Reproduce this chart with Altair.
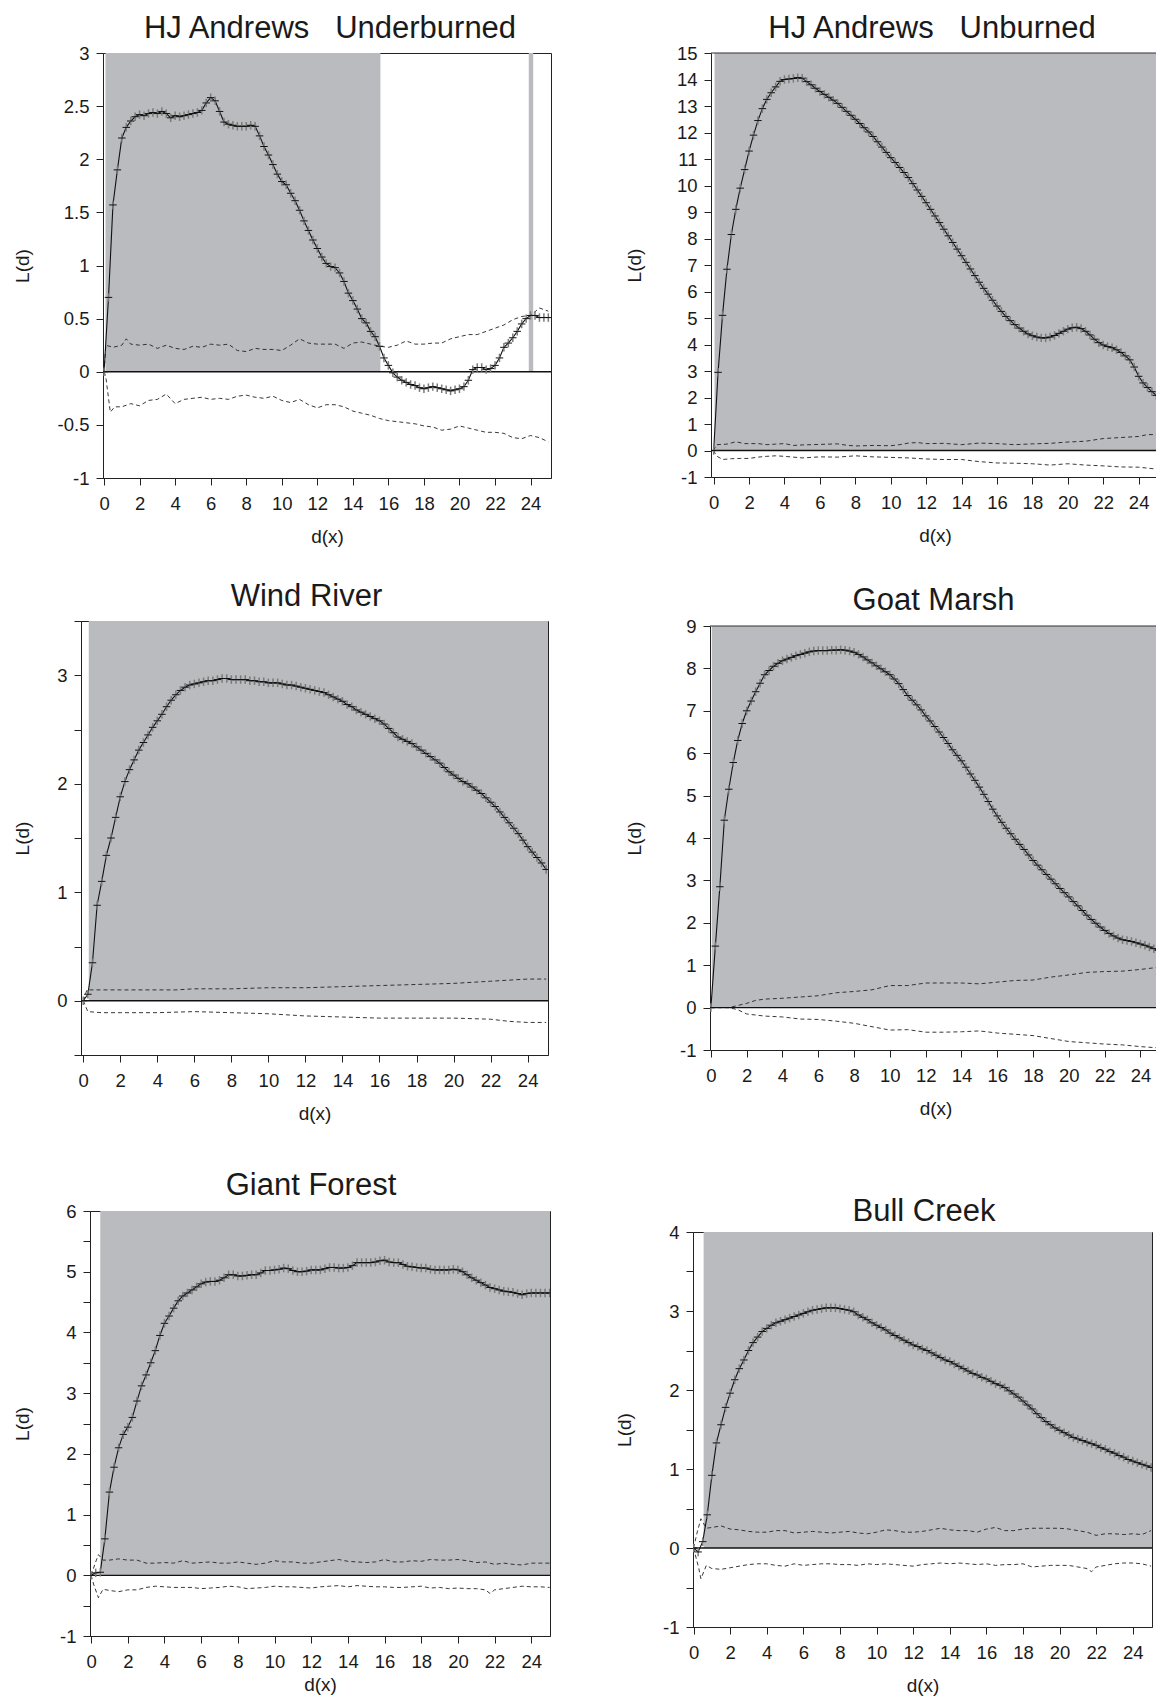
import altair as alt
import pandas as pd

FONT = "Liberation Sans"
GRAY = "#babbbf"
INK = "#1a1a1a"

# distance grid (d, metres) at which L(d) was evaluated
D = [i * 0.25 for i in range(101)]

# ---------------- HJ Andrews Underburned ----------------
P1_L = [0, 0.7, 1.57, 1.9, 2.2,
        2.3, 2.36, 2.4, 2.42, 2.41, 2.43, 2.44, 2.43, 2.45, 2.43, 2.39, 2.41,
        2.40, 2.41, 2.42, 2.43, 2.44, 2.46, 2.53, 2.58, 2.55, 2.45, 2.35, 2.33,
        2.32, 2.31, 2.31, 2.31, 2.32, 2.31, 2.22, 2.12, 2.04, 1.95, 1.86, 1.79,
        1.76, 1.68, 1.61, 1.52, 1.42, 1.33, 1.24, 1.16, 1.08, 1.02, 0.99, 0.98,
        0.93, 0.85, 0.74, 0.67, 0.59, 0.50, 0.46, 0.38, 0.33, 0.24, 0.13, 0.06,
        -0.01, -0.05, -0.08, -0.10, -0.12, -0.13, -0.15, -0.16, -0.15, -0.14, -0.15, -0.16,
        -0.17, -0.18, -0.17, -0.16, -0.14, -0.08, 0.02, 0.04, 0.04, 0.02, 0.03, 0.06,
        0.13, 0.23, 0.27, 0.32, 0.38, 0.45, 0.50, 0.53, 0.53, 0.51, 0.51, 0.51]
P1_UP = [(0, 0), (0.1, 0.25), (0.5, 0.23), (1, 0.25), (1.25, 0.31), (1.5, 0.26), (2, 0.25),
         (2.5, 0.26), (3, 0.22), (3.5, 0.25), (4, 0.22), (4.5, 0.21), (5, 0.24), (5.5, 0.23),
         (6, 0.26), (6.5, 0.25), (7, 0.26), (7.5, 0.2), (8, 0.19), (8.5, 0.22), (9, 0.21),
         (9.5, 0.21), (10, 0.2), (10.5, 0.25), (11, 0.31), (11.5, 0.27), (12, 0.26),
         (12.5, 0.26), (13, 0.26), (13.5, 0.22), (14, 0.27), (14.5, 0.28), (15, 0.26),
         (15.5, 0.24), (16, 0.23), (16.5, 0.25), (17, 0.29), (17.5, 0.26), (18, 0.26),
         (18.5, 0.27), (19, 0.27), (19.5, 0.31), (20, 0.33), (20.5, 0.35), (21, 0.35),
         (21.5, 0.38), (22, 0.41), (22.5, 0.44), (23, 0.49), (23.5, 0.52), (24, 0.53),
         (24.5, 0.6), (25, 0.57)]
P1_LO = [(0, 0), (0.1, -0.05), (0.35, -0.38), (0.6, -0.33), (1, -0.33), (1.5, -0.3), (2, -0.32),
         (2.5, -0.27), (3, -0.26), (3.5, -0.21), (4, -0.3), (4.5, -0.26), (5, -0.25),
         (5.5, -0.24), (6, -0.26), (6.5, -0.25), (7, -0.26), (7.5, -0.23), (8, -0.22),
         (8.5, -0.24), (9, -0.25), (9.5, -0.23), (10, -0.27), (10.5, -0.29), (11, -0.26),
         (11.5, -0.31), (12, -0.34), (12.5, -0.31), (13, -0.31), (13.5, -0.33), (14, -0.37),
         (14.5, -0.39), (15, -0.41), (15.5, -0.44), (16, -0.46), (16.5, -0.47), (17, -0.48),
         (17.5, -0.49), (18, -0.51), (18.5, -0.52), (19, -0.55), (19.5, -0.54), (20, -0.51),
         (20.5, -0.53), (21, -0.55), (21.5, -0.57), (22, -0.57), (22.5, -0.58), (23, -0.62),
         (23.5, -0.63), (24, -0.6), (24.5, -0.62), (25, -0.66)]
P1_SHADE = [(0.08, 15.55), (23.9, 24.15)]

# ---------------- HJ Andrews Unburned ----------------
P2_L = [0, 2.95, 5.1, 6.84, 8.15,
        9.1, 9.9, 10.6, 11.3, 11.9, 12.45, 12.9, 13.25, 13.5, 13.72, 13.93, 14.0,
        14.02, 14.04, 14.07, 14.05, 13.92, 13.8, 13.67, 13.55, 13.44, 13.33, 13.22, 13.1,
        12.95, 12.8, 12.65, 12.5, 12.34, 12.18, 12.02, 11.85, 11.65, 11.45, 11.25, 11.05,
        10.87, 10.68, 10.49, 10.3, 10.07, 9.83, 9.59, 9.35, 9.1, 8.85, 8.6, 8.35,
        8.1, 7.85, 7.6, 7.35, 7.1, 6.85, 6.6, 6.35, 6.12, 5.9, 5.67, 5.45,
        5.25, 5.06, 4.9, 4.75, 4.62, 4.5, 4.4, 4.33, 4.28, 4.25, 4.25, 4.28,
        4.34, 4.42, 4.5, 4.58, 4.63, 4.65, 4.6, 4.5, 4.36, 4.2, 4.07, 3.98,
        3.92, 3.88, 3.8, 3.7, 3.57, 3.42, 3.15, 2.8, 2.55, 2.38, 2.22, 2.08]
P2_UP = [(0, 0), (0.15, 0.22), (0.75, 0.24), (1.25, 0.33), (1.75, 0.26), (2.5, 0.26), (3, 0.22),
         (3.5, 0.24), (4, 0.26), (4.5, 0.19), (5, 0.21), (6, 0.23), (7, 0.25), (7.5, 0.2),
         (8, 0.17), (9, 0.19), (10, 0.18), (10.5, 0.22), (11, 0.28), (11.5, 0.3), (12, 0.26),
         (13, 0.27), (14, 0.22), (15, 0.28), (16, 0.26), (17, 0.22), (18, 0.25), (19, 0.27),
         (20, 0.32), (21, 0.35), (22, 0.45), (23, 0.49), (24, 0.53), (24.5, 0.6), (25, 0.6)]
P2_LO = [(0, 0), (0.15, -0.2), (0.5, -0.34), (1, -0.31), (1.5, -0.3), (2, -0.3), (2.5, -0.25),
         (3, -0.22), (3.5, -0.2), (4, -0.22), (5, -0.28), (6, -0.24), (7, -0.25), (8, -0.2),
         (9, -0.24), (10, -0.26), (11, -0.28), (12, -0.32), (13, -0.34), (14, -0.34),
         (15, -0.42), (16, -0.47), (17, -0.48), (18, -0.5), (19, -0.55), (20, -0.5),
         (21, -0.55), (22, -0.58), (23, -0.62), (24, -0.63), (25, -0.7)]
P2_SHADE = [(0.05, 25.4)]

# ---------------- Wind River ----------------
P3_L = [0, 0.06, 0.35, 0.88, 1.1,
        1.34, 1.5, 1.69, 1.88, 2.02, 2.13, 2.22, 2.31, 2.38, 2.45, 2.52, 2.58,
        2.64, 2.71, 2.77, 2.82, 2.86, 2.89, 2.91, 2.92, 2.93, 2.94, 2.95, 2.95,
        2.96, 2.97, 2.97, 2.96, 2.96, 2.96, 2.96, 2.95, 2.95, 2.94, 2.94, 2.93,
        2.93, 2.93, 2.92, 2.91, 2.91, 2.9, 2.89, 2.88, 2.87, 2.86, 2.85, 2.84,
        2.82, 2.8, 2.78, 2.76, 2.73, 2.71, 2.68, 2.66, 2.64, 2.62, 2.6, 2.58,
        2.55, 2.51, 2.47, 2.43, 2.41, 2.39, 2.37, 2.34, 2.31, 2.28, 2.25, 2.22,
        2.19, 2.15, 2.11, 2.08, 2.05, 2.02, 2.0, 1.97, 1.94, 1.91, 1.87, 1.83,
        1.79, 1.74, 1.69, 1.64, 1.59, 1.54, 1.48, 1.42, 1.37, 1.32, 1.27, 1.21]
P3_UP = [(0, 0), (0.2, 0.1), (1, 0.1), (2, 0.1), (4, 0.1), (5, 0.1), (6, 0.11), (8, 0.11),
         (10, 0.12), (12, 0.12), (14, 0.13), (16, 0.14), (18, 0.15), (20, 0.16), (22, 0.18),
         (23, 0.19), (24, 0.2), (25, 0.2)]
P3_LO = [(0, 0), (0.25, -0.1), (1, -0.11), (2, -0.11), (4, -0.11), (6, -0.1), (8, -0.11),
         (10, -0.12), (12, -0.14), (14, -0.15), (16, -0.16), (18, -0.16), (20, -0.16),
         (22, -0.17), (23, -0.19), (24, -0.2), (25, -0.2)]
P3_SHADE = [(0.3, 25.4)]

# ---------------- Goat Marsh ----------------
P4_L = [0, 1.45, 2.85, 4.42, 5.15,
        5.78, 6.3, 6.7, 7.0, 7.23, 7.45, 7.65, 7.85, 7.95, 8.05, 8.12, 8.18,
        8.22, 8.26, 8.3, 8.33, 8.36, 8.39, 8.41, 8.42, 8.42, 8.42, 8.43, 8.43,
        8.44, 8.43, 8.41, 8.38, 8.33, 8.27, 8.2, 8.13, 8.06, 7.99, 7.92, 7.85,
        7.75, 7.64, 7.5, 7.36, 7.25, 7.14, 7.02, 6.88, 6.76, 6.63, 6.5, 6.37,
        6.23, 6.08, 5.95, 5.82, 5.67, 5.51, 5.36, 5.2, 5.03, 4.86, 4.68, 4.52,
        4.37, 4.23, 4.1, 3.97, 3.85, 3.73, 3.6, 3.47, 3.36, 3.25, 3.14, 3.03,
        2.92, 2.81, 2.71, 2.61, 2.5, 2.4, 2.29, 2.18, 2.08, 1.99, 1.9, 1.82,
        1.75, 1.69, 1.64, 1.6, 1.58, 1.56, 1.53, 1.5, 1.47, 1.43, 1.39, 1.35]
P4_UP = [(0, 0), (1, 0), (1.5, 0.05), (2, 0.1), (2.5, 0.17), (3, 0.2), (4, 0.22), (5, 0.25),
         (6, 0.28), (7, 0.35), (8, 0.38), (9, 0.42), (10, 0.52), (11, 0.52), (12, 0.58),
         (13, 0.58), (14, 0.58), (15, 0.56), (16, 0.6), (17, 0.64), (18, 0.65), (19, 0.72),
         (20, 0.77), (21, 0.83), (22, 0.85), (23, 0.86), (24, 0.9), (25, 0.95)]
P4_LO = [(0, 0), (1, 0), (1.5, -0.05), (2, -0.15), (3, -0.2), (4, -0.22), (5, -0.27),
         (6, -0.28), (7, -0.32), (8, -0.37), (9, -0.45), (10, -0.53), (11, -0.52),
         (12, -0.58), (13, -0.58), (14, -0.57), (15, -0.55), (16, -0.6), (17, -0.63),
         (18, -0.66), (19, -0.73), (20, -0.8), (21, -0.83), (22, -0.86), (23, -0.88),
         (24, -0.92), (25, -0.95)]
P4_SHADE = [(0.05, 25.4)]

# ---------------- Giant Forest ----------------
P5_L = [0, 0.04, 0.05, 0.6, 1.37,
        1.78, 2.1, 2.32, 2.44, 2.6, 2.87, 3.12, 3.3, 3.5, 3.7, 3.95, 4.15,
        4.27, 4.4, 4.52, 4.6, 4.65, 4.7, 4.75, 4.8, 4.83, 4.84, 4.84, 4.86,
        4.9, 4.95, 4.95, 4.93, 4.93, 4.94, 4.95, 4.95, 4.98, 5.02, 5.02, 5.03,
        5.04, 5.06, 5.05, 5.02, 5.0, 5.0, 5.01, 5.03, 5.03, 5.03, 5.05, 5.07,
        5.07, 5.06, 5.06, 5.07, 5.1, 5.15, 5.15, 5.15, 5.15, 5.16, 5.18, 5.19,
        5.16, 5.15, 5.15, 5.12, 5.09, 5.08, 5.07, 5.06, 5.06, 5.04, 5.03, 5.03,
        5.03, 5.03, 5.04, 5.03, 5.0, 4.95, 4.9, 4.86, 4.82, 4.78, 4.74, 4.72,
        4.7, 4.68, 4.67, 4.66, 4.64, 4.62, 4.64, 4.65, 4.65, 4.65, 4.65, 4.65]
P5_UP = [(0, 0), (0.25, 0.22), (0.4, 0.34), (0.65, 0.25), (1, 0.25), (1.5, 0.27), (2, 0.25),
         (2.5, 0.25), (3, 0.2), (3.5, 0.2), (4, 0.21), (4.5, 0.2), (5, 0.24), (5.5, 0.2),
         (6, 0.21), (6.5, 0.22), (7, 0.2), (7.5, 0.2), (8, 0.22), (8.5, 0.2), (9, 0.18),
         (9.5, 0.2), (10, 0.24), (10.5, 0.22), (11, 0.22), (11.5, 0.2), (12, 0.2),
         (12.5, 0.22), (13, 0.24), (13.5, 0.26), (14, 0.23), (14.5, 0.22), (15, 0.21),
         (15.5, 0.22), (16, 0.26), (16.5, 0.22), (17, 0.22), (17.5, 0.24), (18, 0.23),
         (18.5, 0.26), (19, 0.25), (19.5, 0.25), (20, 0.26), (20.5, 0.24), (21, 0.21),
         (21.5, 0.22), (22, 0.18), (22.5, 0.2), (23, 0.18), (23.5, 0.17), (24, 0.2),
         (24.5, 0.2), (25, 0.2)]
P5_LO = [(0, 0), (0.15, -0.16), (0.4, -0.37), (0.65, -0.23), (1, -0.25), (1.5, -0.27),
         (2, -0.24), (2.5, -0.24), (3, -0.2), (3.5, -0.18), (4, -0.19), (4.5, -0.2),
         (5, -0.2), (5.5, -0.2), (6, -0.22), (6.5, -0.21), (7, -0.2), (7.5, -0.18),
         (8, -0.19), (8.5, -0.22), (9, -0.21), (9.5, -0.2), (10, -0.18), (10.5, -0.19),
         (11, -0.19), (11.5, -0.2), (12, -0.21), (12.5, -0.19), (13, -0.18), (13.5, -0.17),
         (14, -0.19), (14.5, -0.17), (15, -0.18), (15.5, -0.19), (16, -0.19), (16.5, -0.2),
         (17, -0.2), (17.5, -0.19), (18, -0.18), (18.5, -0.21), (19, -0.2), (19.5, -0.22),
         (20, -0.21), (20.5, -0.22), (21, -0.22), (21.5, -0.24), (21.75, -0.3), (22, -0.24),
         (22.5, -0.22), (23, -0.2), (23.5, -0.18), (24, -0.19), (24.5, -0.19), (25, -0.2)]
P5_SHADE = [(0.5, 25.4)]

# ---------------- Bull Creek ----------------
P6_L = [0, -0.05, 0.08, 0.42, 0.92,
        1.33, 1.56, 1.78, 1.96, 2.13, 2.27, 2.38, 2.5, 2.6, 2.67, 2.74, 2.78,
        2.82, 2.85, 2.87, 2.89, 2.91, 2.93, 2.95, 2.97, 2.99, 3.01, 3.02, 3.03,
        3.04, 3.04, 3.04, 3.03, 3.02, 3.01, 2.99, 2.95, 2.92, 2.89, 2.85, 2.82,
        2.79, 2.76, 2.72, 2.69, 2.66, 2.63, 2.6, 2.57, 2.55, 2.52, 2.5, 2.47,
        2.44, 2.41, 2.38, 2.36, 2.33, 2.3, 2.27, 2.24, 2.21, 2.19, 2.16, 2.14,
        2.11, 2.08, 2.06, 2.03, 1.99, 1.95, 1.91, 1.86, 1.81, 1.76, 1.7, 1.65,
        1.6, 1.56, 1.52, 1.49, 1.46, 1.43, 1.4, 1.38, 1.36, 1.34, 1.32, 1.3,
        1.27, 1.25, 1.22, 1.2, 1.17, 1.15, 1.12, 1.1, 1.08, 1.06, 1.04, 1.02]
P6_UP = [(0, 0), (0.2, 0.2), (0.4, 0.37), (0.7, 0.25), (1, 0.26), (1.5, 0.28), (2, 0.24),
         (2.5, 0.23), (3, 0.21), (3.5, 0.2), (4, 0.2), (4.5, 0.22), (5, 0.22), (5.5, 0.19),
         (6, 0.2), (6.5, 0.21), (7, 0.2), (7.5, 0.19), (8, 0.2), (8.5, 0.21), (9, 0.19),
         (9.5, 0.18), (10, 0.2), (10.5, 0.23), (11, 0.22), (11.5, 0.2), (12, 0.2),
         (12.5, 0.21), (13, 0.23), (13.5, 0.25), (14, 0.23), (14.5, 0.22), (15, 0.22),
         (15.5, 0.2), (16, 0.24), (16.5, 0.26), (17, 0.22), (17.5, 0.22), (18, 0.24),
         (18.5, 0.25), (19, 0.25), (19.5, 0.25), (20, 0.25), (20.5, 0.24), (21, 0.22),
         (21.5, 0.2), (22, 0.16), (22.5, 0.18), (23, 0.18), (23.5, 0.17), (24, 0.18),
         (24.5, 0.17), (25, 0.22)]
P6_LO = [(0, 0), (0.29, -0.26), (0.4, -0.39), (0.7, -0.22), (1, -0.26), (1.5, -0.27),
         (2, -0.25), (2.5, -0.23), (3, -0.21), (3.5, -0.2), (4, -0.2), (4.5, -0.22),
         (5, -0.23), (5.5, -0.2), (6, -0.22), (6.5, -0.21), (7, -0.2), (7.5, -0.2),
         (8, -0.21), (8.5, -0.21), (9, -0.22), (9.5, -0.2), (10, -0.21), (10.5, -0.2),
         (11, -0.21), (11.5, -0.22), (12, -0.23), (12.5, -0.21), (13, -0.2), (13.5, -0.19),
         (14, -0.2), (14.5, -0.19), (15, -0.2), (15.5, -0.21), (16, -0.2), (16.5, -0.22),
         (17, -0.21), (17.5, -0.21), (18, -0.2), (18.5, -0.24), (19, -0.23), (19.5, -0.22),
         (20, -0.22), (20.5, -0.22), (21, -0.24), (21.5, -0.26), (21.75, -0.3), (22, -0.24),
         (22.5, -0.22), (23, -0.2), (23.5, -0.19), (24, -0.19), (24.5, -0.2), (25, -0.23)]
P6_SHADE = [(0.55, 25.4)]

MINUS = "\u2212"


def panel(title, L, up, lo, shade, xdom, ydom, yvals, minor, width, height,
          ytp, toff, tdx=0, xtp=14, frame=True):
    xsc = alt.Scale(domain=xdom, nice=False, zero=False)
    ysc = alt.Scale(domain=ydom, nice=False, zero=False)
    if minor:
        lab = "datum.value % 1 === 0 ? replace(datum.label, '" + MINUS + "', '-') : ''"
    else:
        lab = "replace(datum.label, '" + MINUS + "', '-')"
    xax = alt.Axis(values=list(range(0, 25, 2)), title="d(x)", titlePadding=xtp,
                   minExtent=35, maxExtent=35, labelPadding=9, format="~g")
    yax = alt.Axis(values=yvals, title="L(d)", titlePadding=ytp, minExtent=48,
                   maxExtent=48, labelPadding=7, labelExpr=lab, format="~g")
    X = alt.X("d:Q", scale=xsc, axis=xax)
    Y = alt.Y("v:Q", scale=ysc, axis=yax)

    sdf = pd.DataFrame({"d": [s[0] for s in shade],
                        "d2": [min(s[1], xdom[1]) for s in shade],
                        "v": [0] * len(shade), "v2": [ydom[1]] * len(shade)})
    ldf = pd.DataFrame({"d": D, "v": L})
    udf = pd.DataFrame(up, columns=["d", "v"])
    odf = pd.DataFrame(lo, columns=["d", "v"])

    layers = [
        alt.Chart(sdf).mark_rect(color=GRAY, clip=True).encode(x=X, x2="d2:Q", y=Y, y2="v2:Q"),
        alt.Chart(udf).mark_line(color="#222", strokeWidth=0.9, strokeDash=[4, 3], clip=True).encode(x=X, y=Y),
        alt.Chart(odf).mark_line(color="#222", strokeWidth=0.9, strokeDash=[4, 3], clip=True).encode(x=X, y=Y),
        alt.Chart(pd.DataFrame({"v": [0]})).mark_rule(color="#111", strokeWidth=1.3).encode(y=Y),
        alt.Chart(ldf).mark_line(color="#111", strokeWidth=1.1, clip=True).encode(x=X, y=Y),
        alt.Chart(ldf).mark_point(shape="M0,-1L0,1", size=72, color="#7a7a7a", filled=False,
                                  strokeWidth=1.5, opacity=1, clip=True).encode(x=X, y=Y),
        alt.Chart(ldf).mark_point(shape="M-1,0L1,0", size=56, color="#111", filled=False,
                                  strokeWidth=1, opacity=1, clip=True).encode(x=X, y=Y),
    ]
    if not frame:
        layers.append(alt.Chart(pd.DataFrame({"v": [ydom[1]]}))
                      .mark_rule(color="#333", strokeWidth=1.2).encode(y=Y))
    view = alt.ViewBackground(stroke="#222", strokeWidth=1) if frame else \
        alt.ViewBackground(stroke="transparent")
    return alt.layer(*layers).properties(
        width=width, height=height, view=view,
        title=alt.TitleParams(title, offset=toff, frame="group", anchor="middle",
                              baseline="bottom", dx=tdx))


def spacer(w, h):
    return alt.Chart(pd.DataFrame({"v": [0]})).mark_point(opacity=0).encode(
        x=alt.X("v:Q", axis=None), y=alt.Y("v:Q", axis=None)).properties(width=w, height=h)


half = [x / 2 for x in range(-2, 7)]
p1 = panel("HJ Andrews\u00a0\u00a0\u00a0Underburned", P1_L, P1_UP, P1_LO, P1_SHADE,
           [-0.06, 25.15], [-1, 3], half, False, 448, 425, 23, -32, tdx=3)
p2 = panel("HJ Andrews\u00a0\u00a0\u00a0Unburned", P2_L, P2_UP, P2_LO, P2_SHADE,
           [-0.15, 25.15], [-1, 15], list(range(-1, 16)), False, 448, 424, 19, -32,
           tdx=-3, frame=False)
p3 = panel("Wind River", P3_L, P3_UP, P3_LO, P3_SHADE,
           [-0.12, 25.1], [-0.5, 3.5], [x / 2 for x in range(-1, 8)], True, 467, 434, 1, -31.7,
           tdx=-8)
p4 = panel("Goat Marsh", P4_L, P4_UP, P4_LO, P4_SHADE,
           [-0.05, 25.15], [-1, 9], list(range(-1, 10)), False, 451, 424, 17.8, -31,
           tdx=-2, frame=False)
p5 = panel("Giant Forest", P5_L, P5_UP, P5_LO, P5_SHADE,
           [-0.06, 25.02], [-1, 6], [x / 2 for x in range(-2, 13)], True, 460, 425, 10, -30.5,
           tdx=-9, xtp=4)
p6 = panel("Bull Creek", P6_L, P6_UP, P6_LO, P6_SHADE,
           [-0.03, 25.05], [-1, 4], [x / 2 for x in range(-2, 9)], True, 459, 395, 10.8, -35.9,
           tdx=1.5, xtp=14)

colA = alt.vconcat(
    alt.hconcat(spacer(1, 1), p1, spacing=0),
    spacer(1, 31),
    alt.hconcat(spacer(1, 1), p3, spacing=0),
    spacer(1, 43),
    alt.hconcat(spacer(1, 1), p5, spacing=0),
    spacing=0)
colB = alt.vconcat(
    alt.hconcat(spacer(14, 1), p2, spacing=0),
    spacer(1, 36),
    alt.hconcat(spacer(14, 1), p4, spacing=0),
    spacer(1, 74),
    alt.hconcat(spacer(3, 1), p6, spacing=0),
    spacing=0)

chart = alt.hconcat(colA, colB, spacing=53).properties(
    padding={"left": -3, "top": 4, "right": -7, "bottom": 0}
).configure_view(stroke="transparent").configure_axis(
    labelFont=FONT, titleFont=FONT, labelFontSize=18.5, titleFontSize=19,
    titleFontWeight="normal", labelColor=INK, titleColor=INK, tickColor="#222",
    domainColor="#222", tickSize=7, tickWidth=1, domainWidth=1, grid=False,
    labelFlush=False, labelOverlap=False
).configure_title(font=FONT, fontSize=31, fontWeight="normal", color=INK)

chart.save("out.html", embed_options={"renderer": "svg", "actions": False})
